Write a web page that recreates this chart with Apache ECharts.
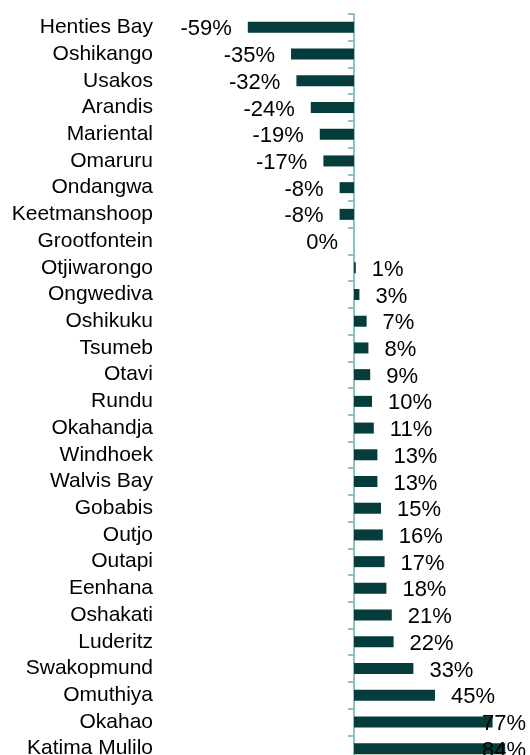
<!DOCTYPE html>
<html>
<head>
    <meta charset="UTF-8">
    <title>towns</title>
    <script src="https://cdn.jsdelivr.net/npm/echarts@6/dist/echarts.min.js"></script>
</head>
<body style="margin:0;">
<div id="main" style="width:530px;height:755px;"></div>
<script type="text/javascript">
    // towns, top to bottom
    var towns = ['Henties Bay', 'Oshikango', 'Usakos', 'Arandis', 'Mariental', 'Omaruru', 'Ondangwa',
        'Keetmanshoop', 'Grootfontein', 'Otjiwarongo', 'Ongwediva', 'Oshikuku', 'Tsumeb', 'Otavi',
        'Rundu', 'Okahandja', 'Windhoek', 'Walvis Bay', 'Gobabis', 'Outjo', 'Outapi', 'Eenhana',
        'Oshakati', 'Luderitz', 'Swakopmund', 'Omuthiya', 'Okahao', 'Katima Mulilo'];
    // change in %
    var change = [-59, -35, -32, -24, -19, -17, -8, -8, 0, 1, 3, 7, 8, 9, 10, 11, 13, 13, 15, 16,
        17, 18, 21, 22, 33, 45, 77, 84];

    var xMin = -80, xMax = 100;
    var gridLeft = 210, gridWidth = 324;
    var pxPer = gridWidth / (xMax - xMin);
    var labelGap = 16, labelFont = 22, rightLimit = 526;

    var barData = [];
    for (var i = 0; i < change.length; i++) {
        var v = change[i];
        var item = {value: v, label: {position: v > 0 ? 'right' : 'left', offset: [0, 2]}};
        if (v > 0) {
            // keep label inside the picture like excel does
            var start = gridLeft + (v - xMin) * pxPer + labelGap;
            var w = String(v).length * 0.556 * labelFont + 0.889 * labelFont;
            if (start + w > rightLimit) {
                item.label.offset = [rightLimit - w - start, 2];
            }
        }
        barData.push(item);
    }

    var myChart = echarts.init(document.getElementById('main'));
    myChart.setOption({
        animation: false,
        grid: {left: gridLeft, top: 14, width: gridWidth, height: 748, outerBoundsMode: 'none', containLabel: false},
        xAxis: {
            type: 'value',
            min: xMin,
            max: xMax,
            show: false
        },
        yAxis: {
            type: 'category',
            inverse: true,
            data: towns,
            axisLine: {onZero: true, lineStyle: {color: '#8cc4c4', width: 2}},
            axisTick: {show: true, interval: 0, length: 6, lineStyle: {color: '#8cc4c4', width: 2}},
            axisLabel: {
                interval: 0,
                margin: 57,
                padding: [5, 0, 0, 0],
                fontSize: 21,
                color: '#000',
                fontFamily: 'Liberation Sans, Arial, sans-serif'
            },
            splitLine: {show: false}
        },
        series: [{
            type: 'bar',
            data: barData,
            barWidth: 11,
            itemStyle: {color: '#053c3c'},
            label: {
                show: true,
                distance: labelGap,
                formatter: '{c}%',
                fontSize: labelFont,
                color: '#000',
                fontFamily: 'Liberation Sans, Arial, sans-serif'
            }
        }]
    });
</script>
</body>
</html>
